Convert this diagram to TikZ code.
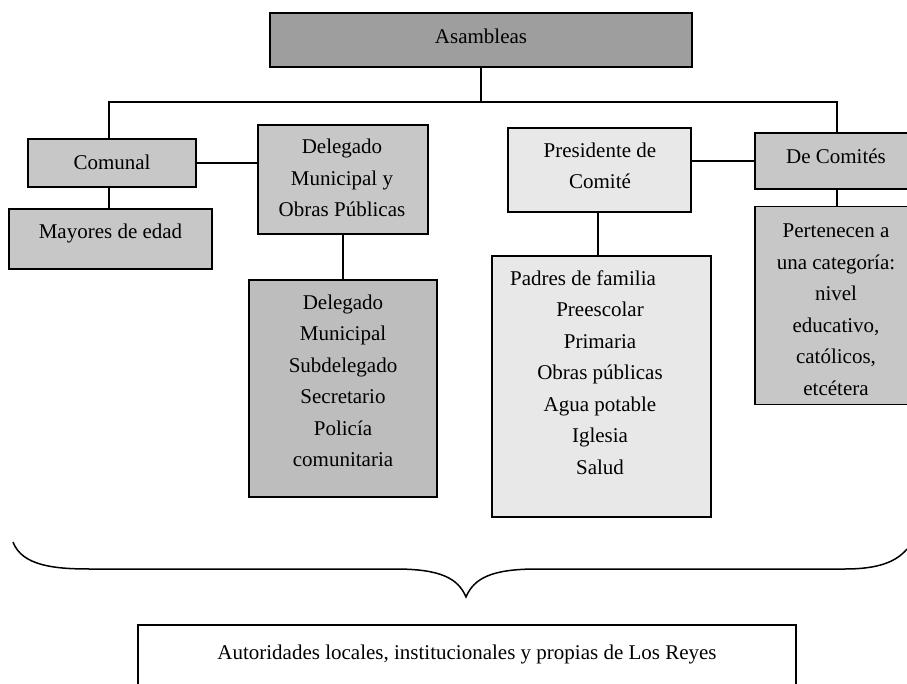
\documentclass[tikz,border=0pt]{standalone}
\usepackage{fontspec}
\setmainfont{Liberation Serif}
\begin{document}
\begin{tikzpicture}[x=1pt,y=-1pt,
  box/.style={draw=black,line width=1.6pt,inner sep=0pt,anchor=center},
  dark/.style={box,fill=black!38},
  mid/.style={box,fill=black!22},
  midd/.style={box,fill=black!26},
  light/.style={box,fill=black!9},
  white/.style={box,fill=white},
  txt/.style={inner sep=0pt,align=center,font=\fontsize{21}{31.5}\selectfont},
  conn/.style={draw=black,line width=1.6pt}]
\useasboundingbox (0,0) rectangle (907,684);
\clip (0,0) rectangle (907,684);
% boxes
\node[dark,minimum width=422pt,minimum height=54pt] (asam) at (481,40) {};
\node[mid,minimum width=168pt,minimum height=48pt] (comunal) at (112,163) {};
\node[mid,minimum width=203pt,minimum height=60pt] (mayores) at (110.5,239) {};
\node[mid,minimum width=170pt,minimum height=109pt] (delegado) at (343,179.5) {};
\node[midd,minimum width=188pt,minimum height=217pt] (deleglist) at (343,388.5) {};
\node[light,minimum width=183pt,minimum height=84pt] (presidente) at (599.5,170) {};
\node[light,minimum width=219pt,minimum height=261pt] (padres) at (601.5,386.5) {};
\node[mid,minimum width=164pt,minimum height=56pt] (decom) at (837,161) {};
\node[mid,minimum width=164pt,minimum height=198pt] (perten) at (837,305.5) {};
\node[white,minimum width=658pt,minimum height=90pt] (autor) at (467,670) {};
% texts
\node[txt] (asamT) at (481,36) {Asambleas};
\node[txt] (comunalT) at (112,162) {Comunal};
\node[txt] (mayoresT) at (110.5,233) {Mayores de edad};
\node[txt] (delegadoT) at (342,178) {Delegado\\Municipal y\\Obras Públicas};
\node[txt] (deleglistT) at (343,381) {Delegado\\Municipal\\Subdelegado\\Secretario\\Policía\\comunitaria};
\node[txt] (presidenteT) at (600,166) {Presidente de\\Comité};
\node[txt] (padresT) at (600,372.5) {Padres de familia\hspace*{34pt}\\Preescolar\\Primaria\\Obras públicas\\Agua potable\\Iglesia\\Salud};
\node[txt] (decomT) at (836,156) {De Comités};
\node[txt] (pertenT) at (836,309.5) {Pertenecen a\\una categoría:\\nivel\\educativo,\\católicos,\\etcétera};
\node[txt] (autorT) at (467,654) {Autoridades locales, institucionales y propias de Los Reyes};
% connectors
\coordinate (hub) at (481,102);
\coordinate (rightx) at (837,102);
\coordinate (leftx) at (109,102);
\draw[conn] (asam.south) -- (hub);
\draw[conn] (comunal.north -| leftx) -- (leftx) -- (rightx) -- (decom.north);
\draw[conn] (comunal.south -| leftx) -- (mayores.north -| leftx);
\draw[conn] (comunal.east) -- (comunal.east -| delegado.west);
\draw[conn] (delegado.south) -- (deleglist.north);
\draw[conn] (decom.west -| presidente.east) -- (decom.west);
\draw[conn] (presidente.south -| 598,0) -- (padres.north -| 598,0);
\draw[conn] (decom.south) -- (perten.north);
% brace
\draw[line width=1.5pt] (13,542) .. controls (22,566) and (55,569) .. (90,569)
  -- (395,569) .. controls (440,569) and (458,578) .. (466,597)
  .. controls (474,578) and (492,569) .. (537,569)
  -- (845,569) .. controls (878,569) and (896,562) .. (907,549);
\end{tikzpicture}
\end{document}
